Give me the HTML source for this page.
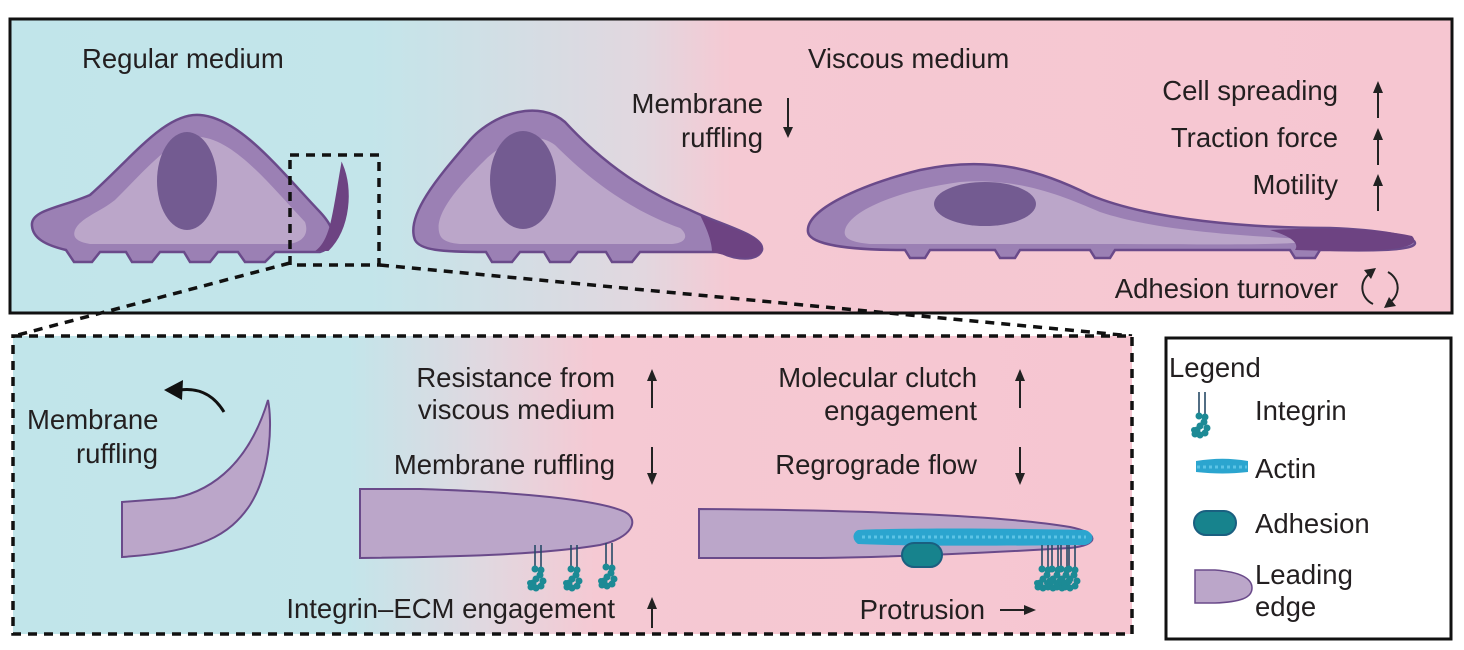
<!DOCTYPE html>
<html><head><meta charset="utf-8"><style>
html,body{margin:0;padding:0;background:#fff;}
svg{display:block;}
text{font-family:"Liberation Sans",sans-serif;font-size:27.5px;fill:#231f20;}
</style></head><body>
<svg width="1464" height="650" viewBox="0 0 1464 650" xmlns="http://www.w3.org/2000/svg">
<defs>
<linearGradient id="gt" x1="0" x2="1" y1="0" y2="0">
<stop offset="0" stop-color="#c1e5ea"/><stop offset="0.25" stop-color="#c3e5ea"/>
<stop offset="0.44" stop-color="#e2d7df"/><stop offset="0.5" stop-color="#f5c9d3"/><stop offset="1" stop-color="#f6c6d1"/>
</linearGradient>
<linearGradient id="gb" x1="0" x2="1" y1="0" y2="0">
<stop offset="0" stop-color="#c1e5ea"/><stop offset="0.3" stop-color="#c3e5ea"/>
<stop offset="0.42" stop-color="#e0d8e0"/><stop offset="0.52" stop-color="#f5c9d3"/><stop offset="1" stop-color="#f6c6d1"/>
</linearGradient>
<g id="integ">
<line x1="-3" y1="0" x2="-3" y2="22" stroke="#264a66" stroke-width="1.6"/>
<line x1="3" y1="0" x2="3" y2="22" stroke="#264a66" stroke-width="1.6"/>
<g fill="#1c8a95">
<circle cx="-3" cy="24" r="3.5"/><circle cx="3" cy="25" r="3.5"/><circle cx="2" cy="30" r="3.5"/>
<circle cx="-2" cy="34" r="3.5"/><circle cx="-5" cy="38" r="3.5"/><circle cx="-7" cy="42" r="3.5"/>
<circle cx="-2" cy="43" r="3.5"/><circle cx="3" cy="41" r="3.5"/><circle cx="5" cy="36" r="3.5"/><circle cx="-8" cy="38" r="3"/>
</g>
</g>
</defs>

<rect x="10" y="19" width="1442" height="294" fill="url(#gt)" stroke="#111" stroke-width="3"/>

<!-- cell 1 -->
<path d="M32,226 C30,210 60,208 90,195 C130,160 165,112 200,115 C240,118 280,170 320,212 C335,228 340,245 320,252 L275,252 L265,262 L245,262 L238,252 L218,252 L210,262 L190,262 L184,252 L160,252 L152,262 L132,262 L126,252 L100,252 L92,262 L74,262 L66,250 C45,245 33,238 32,226 Z" fill="#9b80b4" stroke="#6a4a8a" stroke-width="2.5"/>
<path d="M75,230 C80,218 100,212 115,200 C150,165 175,135 200,137 C235,140 270,185 305,222 C310,236 300,244 285,244 L90,244 C78,242 72,238 75,230 Z" fill="#bba6c9"/>
<ellipse cx="187" cy="181" rx="30" ry="49" fill="#735b91"/>
<path d="M318,250 C332,238 334,210 342,165 C352,188 350,228 328,250 Z" fill="#6d4382" stroke="#6d4382" stroke-width="2"/>

<!-- cell 2 -->
<path d="M415,240 C405,215 440,175 470,140 C495,112 540,100 565,122 C600,160 640,190 690,210 C720,225 765,235 762,250 C758,262 735,260 720,252 L640,252 L632,262 L612,262 L606,252 L578,252 L570,262 L550,262 L544,252 L520,252 L512,262 L492,262 L486,252 C440,252 420,250 415,240 Z" fill="#9b80b4" stroke="#6a4a8a" stroke-width="2.5"/>
<path d="M440,235 C432,215 460,185 485,160 C505,140 535,130 555,145 C590,180 630,210 680,228 C690,236 685,244 670,244 L460,244 C448,243 442,240 440,235 Z" fill="#bba6c9"/>
<ellipse cx="523" cy="180" rx="33" ry="49" fill="#735b91"/>
<path d="M700,215 C725,228 765,235 762,250 C758,262 735,258 712,252 C712,240 705,225 700,215 Z" fill="#6d4382"/>

<!-- cell 3 -->
<path d="M808,232 C805,210 860,185 920,170 C990,155 1040,170 1090,195 C1150,220 1250,228 1330,228 C1380,230 1415,236 1415,243 C1415,250 1380,251 1330,250 L1320,250 L1315,258 L1295,258 L1290,250 L1115,250 L1110,258 L1095,258 L1090,250 L1020,250 L1015,258 L1000,258 L995,250 L930,250 L925,258 L910,258 L905,250 C850,250 810,245 808,232 Z" fill="#9b80b4" stroke="#6a4a8a" stroke-width="2.5"/>
<path d="M845,230 C850,210 900,190 960,182 C1020,178 1060,195 1100,212 C1160,232 1250,236 1320,240 C1300,246 1200,244 1100,244 L870,244 C850,242 843,238 845,230 Z" fill="#bba6c9"/>
<ellipse cx="985" cy="204" rx="51" ry="22" fill="#735b91"/>
<path d="M1270,230 C1330,227 1380,229 1412,236 C1422,246 1400,252 1330,251 L1295,250 C1300,243 1290,236 1270,230 Z" fill="#6d4382"/>

<rect x="290" y="155" width="89" height="110" fill="none" stroke="#111" stroke-width="3.5" stroke-dasharray="9,7"/>
<line x1="290" y1="263" x2="14" y2="336" stroke="#111" stroke-width="3.5" stroke-dasharray="9,7"/>
<line x1="380" y1="265" x2="1132" y2="336" stroke="#111" stroke-width="3.5" stroke-dasharray="9,7"/>

<text x="82" y="68">Regular medium</text>
<text x="808" y="68">Viscous medium</text>
<text x="763" y="113" text-anchor="end">Membrane</text>
<text x="763" y="147" text-anchor="end">ruffling</text>
<text x="1338" y="100" text-anchor="end">Cell spreading</text>
<text x="1338" y="147" text-anchor="end">Traction force</text>
<text x="1338" y="194" text-anchor="end">Motility</text>
<text x="1338" y="298" text-anchor="end">Adhesion turnover</text>
<g stroke="#222" stroke-width="2" fill="#222">
<line x1="788" y1="98" x2="788" y2="135"/><path d="M783,127 L788,138 L793,127 Z" stroke="none"/>
<line x1="1378" y1="84" x2="1378" y2="118"/><path d="M1373,93 L1378,81 L1383,93 Z" stroke="none"/>
<line x1="1378" y1="131" x2="1378" y2="165"/><path d="M1373,140 L1378,128 L1383,140 Z" stroke="none"/>
<line x1="1378" y1="177" x2="1378" y2="211"/><path d="M1373,186 L1378,174 L1383,186 Z" stroke="none"/>
<path d="M1372,272 C1358,280 1360,298 1373,304" fill="none"/><path d="M1364,270 L1376,268 L1371,279 Z" stroke="none"/>
<path d="M1388,272 C1402,280 1400,298 1387,304" fill="none"/><path d="M1396,306 L1384,308 L1389,297 Z" stroke="none"/>
</g>

<rect x="13" y="336" width="1119" height="298" fill="url(#gb)" stroke="#111" stroke-width="3.5" stroke-dasharray="9,7"/>

<path d="M122,502 L175,498 C215,490 250,460 268,400 C272,420 272,470 250,505 C230,535 200,552 122,557 Z" fill="#bba6c9" stroke="#6a4a8a" stroke-width="2"/>
<path d="M224,412 C212,392 195,388 180,390" fill="none" stroke="#111" stroke-width="3"/>
<path d="M164,390 L183,380 L182,400 Z" fill="#111"/>
<text x="27" y="429">Membrane</text>
<text x="158" y="463" text-anchor="end">ruffling</text>

<path d="M360,489 L420,489 C520,492 600,500 625,512 C640,520 632,538 600,545 C540,555 450,557 360,558 Z" fill="#bba6c9" stroke="#6a4a8a" stroke-width="2"/>
<use href="#integ" x="538" y="545"/>
<use href="#integ" x="574" y="545"/>
<use href="#integ" x="609" y="543"/>
<text x="615" y="387" text-anchor="end">Resistance from</text>
<text x="615" y="419" text-anchor="end">viscous medium</text>
<text x="615" y="474" text-anchor="end">Membrane ruffling</text>
<text x="615" y="618" text-anchor="end">Integrin–ECM engagement</text>
<g stroke="#222" stroke-width="2" fill="#222">
<line x1="652" y1="372" x2="652" y2="408"/><path d="M647,381 L652,369 L657,381 Z" stroke="none"/>
<line x1="652" y1="447" x2="652" y2="481"/><path d="M647,473 L652,485 L657,473 Z" stroke="none"/>
<line x1="652" y1="600" x2="652" y2="628"/><path d="M647,609 L652,597 L657,609 Z" stroke="none"/>
</g>

<path d="M699,509 C850,510 1000,515 1070,527 C1100,533 1100,545 1070,548 C1000,552 900,557 820,558 L699,558 Z" fill="#bba6c9" stroke="#6a4a8a" stroke-width="2"/>
<path d="M858,530 C900,528 1000,528 1085,530 C1095,533 1095,543 1085,545 C1000,546 900,546 858,544 C852,540 852,533 858,530 Z" fill="#2ba5cf"/>
<path d="M862,537 L1086,537" stroke="#5cc4e6" stroke-width="3" stroke-dasharray="3,3"/>
<rect x="902" y="543" width="40" height="24" rx="12" fill="#17838d" stroke="#1a5f80" stroke-width="2"/>
<use href="#integ" x="1045" y="545"/>
<use href="#integ" x="1055" y="545"/>
<use href="#integ" x="1064" y="545"/>
<use href="#integ" x="1072" y="545"/>
<text x="977" y="387" text-anchor="end">Molecular clutch</text>
<text x="977" y="420" text-anchor="end">engagement</text>
<text x="977" y="474" text-anchor="end">Regrograde flow</text>
<text x="985" y="619" text-anchor="end">Protrusion</text>
<g stroke="#222" stroke-width="2" fill="#222">
<line x1="1020" y1="372" x2="1020" y2="408"/><path d="M1015,381 L1020,369 L1025,381 Z" stroke="none"/>
<line x1="1020" y1="447" x2="1020" y2="481"/><path d="M1015,473 L1020,485 L1025,473 Z" stroke="none"/>
<line x1="1000" y1="610" x2="1030" y2="610"/><path d="M1024,605 L1036,610 L1024,615 Z" stroke="none"/>
</g>

<rect x="1166" y="338" width="285" height="301" fill="#fff" stroke="#111" stroke-width="3"/>
<text x="1169" y="377">Legend</text>
<use href="#integ" x="1202" y="392"/>
<text x="1255" y="420">Integrin</text>
<path d="M1196,461 C1215,458 1230,458 1248,461 L1248,472 C1230,474 1215,474 1196,472 Z" fill="#2ba5cf"/>
<path d="M1197,467 L1247,467" stroke="#5cc4e6" stroke-width="3" stroke-dasharray="3,3"/>
<text x="1255" y="478">Actin</text>
<rect x="1194" y="511" width="42" height="24" rx="12" fill="#17838d" stroke="#1a5f80" stroke-width="2"/>
<text x="1255" y="533">Adhesion</text>
<path d="M1195,570 L1215,570 C1240,572 1252,578 1252,588 C1252,598 1240,602 1215,603 L1195,603 Z" fill="#bba6c9" stroke="#6a4a8a" stroke-width="1.5"/>
<text x="1255" y="584">Leading</text>
<text x="1255" y="616">edge</text>
</svg>
</body></html>
